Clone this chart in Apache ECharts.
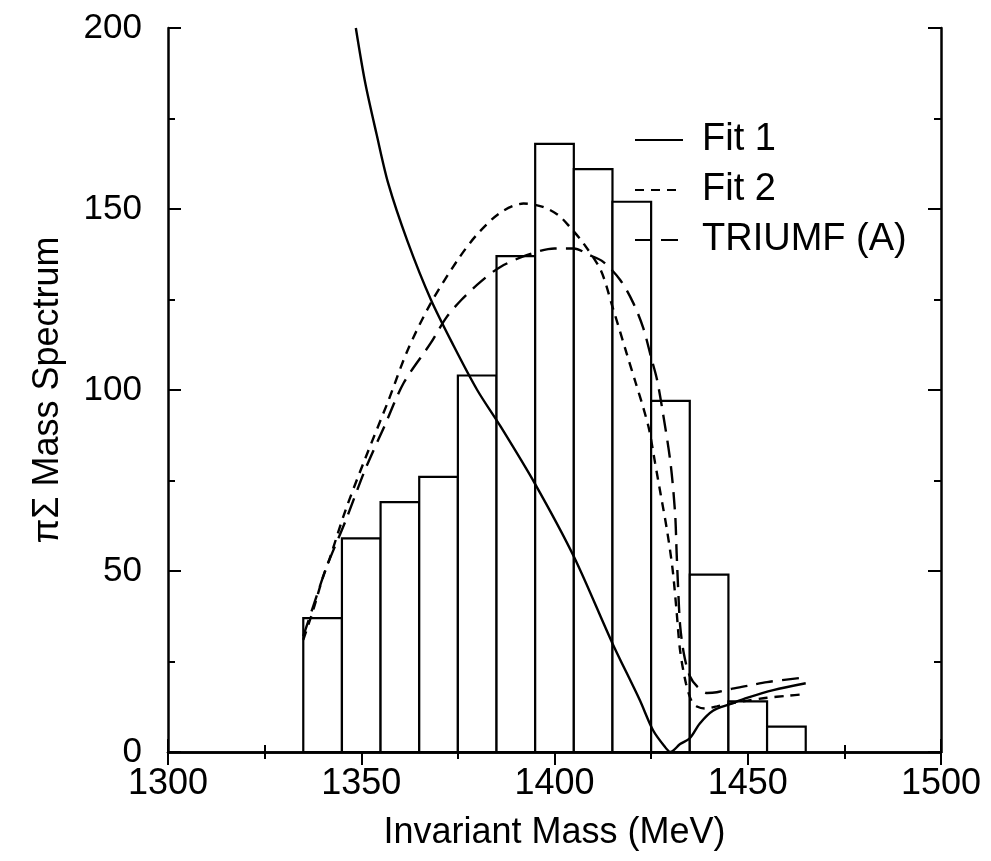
<!DOCTYPE html>
<html>
<head>
<meta charset="utf-8">
<script src="https://cdn.jsdelivr.net/npm/echarts@6/dist/echarts.min.js"></script>
<style>
  html, body { margin: 0; padding: 0; background: #fff; }
  #chart { width: 991px; height: 861px; }
</style>
</head>
<body>
<div id="chart"></div>
<script>
// histogram bins (10 MeV wide)
const binCenters = [1340, 1350, 1360, 1370, 1380, 1390, 1400, 1410, 1420, 1430, 1440, 1450, 1460]
const binCounts = [37, 59, 69, 76, 104, 137, 168, 161, 152, 97, 49, 14, 7]
const binWidth = 10

// curves, [mass, value]
const fit1 = [
  [1348.6, 200], [1351, 185], [1354, 170.5], [1357, 157], [1362, 141], [1368, 125],
  [1374, 112], [1380, 100], [1386, 90], [1395, 74], [1405, 54], [1415, 30],
  [1422, 14.5], [1425.5, 6], [1428.5, 1.5], [1430, 0], [1432.5, 2.2], [1435, 3.8],
  [1437.6, 7.9], [1441, 11.4], [1445.4, 13.2], [1450, 15], [1456.6, 17.1], [1465, 19]
]
const fit2 = [
  [1335, 31], [1337.5, 39], [1340, 48], [1342, 54], [1346, 67], [1351, 81], [1357, 97],
  [1362, 111], [1368, 124], [1375, 136], [1380, 143], [1386, 149], [1392, 151.5],
  [1397, 150.6], [1401, 148.3], [1404, 145], [1407.5, 140.5], [1412, 133], [1415, 123],
  [1418.7, 110], [1421, 102], [1423, 95], [1424.5, 89], [1426, 80], [1427.5, 71],
  [1429, 62], [1430.5, 51], [1431.5, 40], [1432.5, 28], [1434, 19], [1435.5, 14],
  [1437, 12.5], [1439, 12], [1442, 12.6], [1446, 13.5], [1450, 14.2], [1455, 15],
  [1460, 15.5], [1465, 16]
]
const triumf = [
  [1335, 32], [1337.5, 40], [1341, 51], [1346, 64], [1351, 78], [1356, 90], [1361, 102],
  [1368, 113], [1372, 120], [1376, 125], [1381, 130], [1386, 134], [1393, 137.3],
  [1400, 139.1], [1405, 139.1], [1409, 137.3], [1412.6, 135.4], [1417, 130.4],
  [1420.4, 124], [1423, 117], [1425, 109], [1426.5, 103], [1428, 94], [1430, 80],
  [1431.2, 66], [1431.6, 55], [1432, 45], [1432.5, 35], [1433.5, 27], [1435, 21],
  [1437, 18], [1439.5, 16.3], [1442, 16.5], [1446, 17.5], [1450, 18.3], [1455, 19.3],
  [1460, 20], [1465, 20.6]
]

const xTicks = [1300, 1350, 1400, 1450, 1500]
const yTicks = [0, 50, 100, 150, 200]

const FONT = 'Liberation Sans, Arial, Helvetica, sans-serif'
const INK = '#000'

const chart = echarts.init(document.getElementById('chart'), null, { renderer: 'canvas' })

const frameAxis = {
  axisLine: { show: true, lineStyle: { color: INK, width: 2.5 } },
  axisTick: { show: true, inside: true, length: 13, lineStyle: { color: INK, width: 2 } },
  minorTick: { show: true, splitNumber: 2, length: 7, lineStyle: { color: INK, width: 2 } },
  splitLine: { show: false },
  minorSplitLine: { show: false }
}

const option = {
  backgroundColor: '#fff',
  animation: false,
  grid: { left: 168, right: 50, top: 28, bottom: 109 },
  legend: {
    orient: 'vertical',
    left: 629,
    top: 116,
    itemWidth: 48,
    itemHeight: 20,
    itemGap: 12,
    itemStyle: { opacity: 0 },
    data: ['Fit 1', 'Fit 2', 'TRIUMF (A)'],
    textStyle: { fontFamily: FONT, fontSize: 38, color: INK, lineHeight: 38, padding: [0, 0, 0, 14] }
  },
  xAxis: [
    {
      type: 'value', min: xTicks[0], max: xTicks[xTicks.length - 1], interval: 50,
      position: 'bottom',
      name: 'Invariant Mass (MeV)', nameLocation: 'middle', nameGap: 63,
      nameTextStyle: { fontFamily: FONT, fontSize: 36, color: INK },
      axisLabel: { fontFamily: FONT, fontSize: 36, color: INK, margin: 14, formatter: v => String(v) },
      ...frameAxis
    },
    {
      type: 'value', min: xTicks[0], max: xTicks[xTicks.length - 1], interval: 50,
      position: 'top',
      axisLabel: { show: false },
      ...frameAxis
    }
  ],
  yAxis: [
    {
      type: 'value', min: yTicks[0], max: yTicks[yTicks.length - 1], interval: 50,
      position: 'left',
      name: 'πΣ Mass Spectrum', nameLocation: 'middle', nameGap: 102,
      nameTextStyle: { fontFamily: FONT, fontSize: 36, color: INK },
      axisLabel: { fontFamily: FONT, fontSize: 35, color: INK, margin: 26 },
      ...frameAxis
    },
    {
      type: 'value', min: yTicks[0], max: yTicks[yTicks.length - 1], interval: 50,
      position: 'right',
      axisLabel: { show: false },
      ...frameAxis
    }
  ],
  series: [
    {
      name: 'counts',
      type: 'custom',
      xAxisIndex: 0,
      yAxisIndex: 0,
      data: binCenters.map((c, i) => [c, binCounts[i]]),
      renderItem: function (params, api) {
        const c = api.value(0)
        const h = api.value(1)
        const p0 = api.coord([c - binWidth / 2, h])
        const p1 = api.coord([c + binWidth / 2, 0])
        return {
          type: 'rect',
          shape: { x: p0[0], y: p0[1], width: p1[0] - p0[0], height: p1[1] - p0[1] },
          style: { fill: '#fff', stroke: INK, lineWidth: 2.2 }
        }
      },
      z: 1
    },
    {
      name: 'Fit 1', type: 'line', data: fit1, symbol: 'none', smooth: 0.3,
      lineStyle: { color: INK, width: 2.4, type: 'solid' }, itemStyle: { color: INK }, z: 3
    },
    {
      name: 'Fit 2', type: 'line', data: fit2, symbol: 'none', smooth: 0.3,
      lineStyle: { color: INK, width: 2.4, type: [9, 7] }, itemStyle: { color: INK }, z: 3
    },
    {
      name: 'TRIUMF (A)', type: 'line', data: triumf, symbol: 'none', smooth: 0.3,
      lineStyle: { color: INK, width: 2.4, type: [17, 9] }, itemStyle: { color: INK }, z: 3
    }
  ]
}

chart.setOption(option)
</script>
</body>
</html>
